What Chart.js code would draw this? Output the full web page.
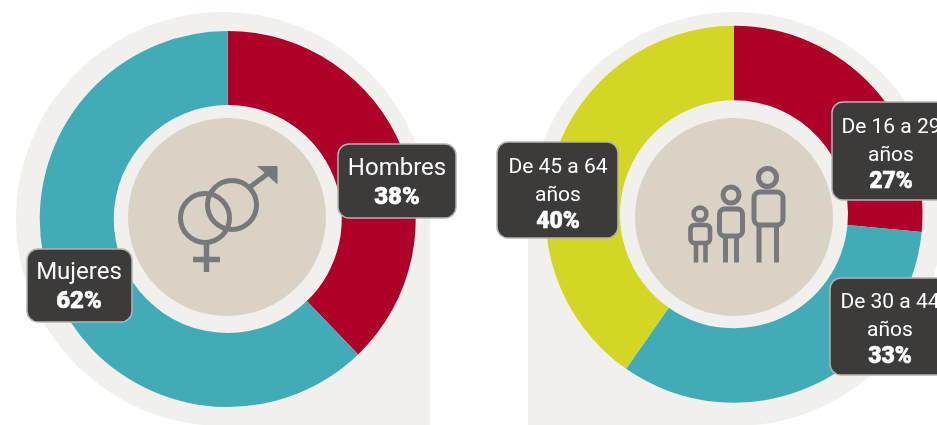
<!DOCTYPE html>
<html lang="es">
<head>
<meta charset="utf-8">
<title>Hombres y mujeres por edad</title>
<script src="https://cdn.jsdelivr.net/npm/chart.js@4"></script>
<style>
    html, body { margin: 0; padding: 0; background: #ffffff; overflow: hidden; }
    body { position: relative; width: 937px; height: 425px; }
    canvas { position: absolute; top: 0; filter: blur(0.4px); }
    #genderChart { left: 0; }
    #ageChart { left: 470px; }
</style>
</head>
<body>
<canvas id="genderChart" width="470" height="425"></canvas>
<canvas id="ageChart" width="467" height="425"></canvas>

<script>
/* data */
const genderLabels = [["Hombres"], ["Mujeres"]];
const genderValues = [37.8, 62.2];
const genderColors = ["#ae0029", "#41acb8"];

const ageLabels = [["De 16 a 29", "años"], ["De 30 a 44", "años"], ["De 45 a 64", "años"]];
const ageValues = [26.5, 33.2, 40.3];
const ageColors = ["#ae0029", "#41acb8", "#d3d623"];

/* callout layout, in canvas pixels: box, text centre, first baseline */
const genderCallouts = [
    { x: 338, y: 144, w: 118, h: 74, cx: 397, base: 175 },
    { x: 27, y: 249, w: 105, h: 73, cx: 79, base: 279 }
];
const ageCallouts = [
    { x: 362, y: 102, w: 125, h: 98, cx: 421, base: 133 },
    { x: 360, y: 278, w: 125, h: 97, cx: 420, base: 308 },
    { x: 27, y: 142, w: 121, h: 96, cx: 88, base: 173 }
];

const HALO = "#f1f0ec";
const BEIGE = "#d9d2c5";
const ICON = "#77787a";
const BOX = "#3d3a3a";
const BOX_BORDER = "#b4b4b2";
const LINE_HEIGHT = 27.5;

function drawCircle(ctx, x, y, r) {
    ctx.beginPath();
    ctx.arc(x, y, r, 0, Math.PI * 2);
}

function drawLine(ctx, x1, y1, x2, y2) {
    ctx.beginPath();
    ctx.moveTo(x1, y1);
    ctx.lineTo(x2, y2);
    ctx.stroke();
}

function drawGenderIcon(ctx) {
    ctx.strokeStyle = ICON;
    ctx.fillStyle = ICON;
    ctx.lineWidth = 5;

    drawCircle(ctx, 205, 218, 24.5);
    ctx.stroke();
    drawCircle(ctx, 232, 205, 24.5);
    ctx.stroke();

    ctx.lineWidth = 5.5;
    drawLine(ctx, 206.5, 243, 206.5, 272);
    drawLine(ctx, 193, 259.5, 220, 259.5);

    ctx.lineWidth = 5;
    drawLine(ctx, 250, 187, 270, 172);

    ctx.beginPath();
    ctx.moveTo(257, 166);
    ctx.lineTo(277.5, 166);
    ctx.lineTo(277.5, 184.5);
    ctx.closePath();
    ctx.fill();
}

function drawPerson(ctx, head, body, legs, bottom, width) {
    ctx.lineWidth = width;
    drawCircle(ctx, head.x, head.y, head.r);
    ctx.stroke();

    ctx.beginPath();
    ctx.roundRect(body.x, body.y, body.w, body.h, body.r);
    ctx.stroke();

    legs.forEach((x) => drawLine(ctx, x, body.y + body.h, x, bottom));
}

function drawPeopleIcon(ctx) {
    ctx.strokeStyle = ICON;
    drawPerson(ctx, { x: 767.5, y: 177.5, r: 9 }, { x: 754, y: 192, w: 29, h: 33, r: 6 }, [759, 776.5], 262.5, 5);
    drawPerson(ctx, { x: 731, y: 195, r: 8 }, { x: 719.5, y: 209, w: 23, h: 27, r: 5 }, [725.5, 736.5], 262.5, 5);
    drawPerson(ctx, { x: 700, y: 214, r: 6.4 }, { x: 690.5, y: 225, w: 19.5, h: 18, r: 4 }, [696, 705.5], 262.5, 4.6);
}

function haloPlugin(cfg) {
    return {
        id: "halo",
        beforeDatasetsDraw(chart) {
            const { ctx } = chart;
            ctx.save();
            ctx.translate(-cfg.offset, 0);
            ctx.fillStyle = HALO;
            drawCircle(ctx, cfg.haloX, 219, 207);
            ctx.fill();
            ctx.fillRect(cfg.squareX, 219, 207, 206);
            ctx.restore();
        },
        afterDatasetsDraw(chart) {
            const { ctx } = chart;
            ctx.save();
            ctx.translate(-cfg.offset, 0);
            ctx.fillStyle = BEIGE;
            drawCircle(ctx, cfg.beigeX, 217, 99);
            ctx.fill();
            cfg.icon(ctx);
            ctx.restore();
        }
    };
}

function calloutPlugin(callouts, labelSize, valueSize) {
    return {
        id: "callouts",
        afterDraw(chart) {
            const { ctx } = chart;
            const values = chart.data.datasets[0].data;
            ctx.save();
            ctx.textAlign = "center";
            ctx.textBaseline = "alphabetic";

            callouts.forEach((box, i) => {
                ctx.beginPath();
                ctx.roundRect(box.x, box.y, box.w, box.h, 11);
                ctx.fillStyle = BOX;
                ctx.fill();
                ctx.lineWidth = 1.5;
                ctx.strokeStyle = BOX_BORDER;
                ctx.stroke();

                ctx.fillStyle = "#ffffff";
                ctx.font = `400 ${labelSize}px Roboto, sans-serif`;
                const lines = chart.data.labels[i];
                lines.forEach((line, n) => ctx.fillText(line, box.cx, box.base + n * LINE_HEIGHT));

                // Roboto's heaviest cut is still lighter than the original, so thicken it a little
                const valueText = `${Math.round(values[i])}%`;
                const valueY = box.base + lines.length * LINE_HEIGHT + (lines.length === 1 ? 1.5 : -0.5);
                ctx.font = `900 ${valueSize}px Roboto, sans-serif`;
                ctx.lineWidth = 0.5;
                ctx.strokeStyle = "#ffffff";
                ctx.strokeText(valueText, box.cx, valueY);
                ctx.fillText(valueText, box.cx, valueY);
            });

            ctx.restore();
        }
    };
}

function createDonut(canvasId, labels, values, colors, padding, cfg, callouts, labelSize, valueSize) {
    return new Chart(document.getElementById(canvasId), {
        type: "doughnut",
        data: {
            labels,
            datasets: [{
                data: values,
                backgroundColor: colors,
                borderWidth: 0
            }]
        },
        options: {
            responsive: false,
            animation: false,
            cutout: 114,
            layout: { padding },
            plugins: {
                legend: { display: false },
                tooltip: { enabled: false }
            }
        },
        plugins: [haloPlugin(cfg), calloutPlugin(callouts, labelSize, valueSize)]
    });
}

createDonut(
    "genderChart",
    genderLabels,
    genderValues,
    genderColors,
    { left: 39.5, right: 54, top: 31, bottom: 18 },
    { offset: 0, haloX: 223, squareX: 223, beigeX: 227, icon: drawGenderIcon },
    genderCallouts,
    24,
    24
);

createDonut(
    "ageChart",
    ageLabels,
    ageValues,
    ageColors,
    { left: 75.5, right: 14.5, top: 25.8, bottom: 22.2 },
    { offset: 470, haloX: 735, squareX: 528, beigeX: 734, icon: drawPeopleIcon },
    ageCallouts,
    21,
    23
);
</script>
</body>
</html>
